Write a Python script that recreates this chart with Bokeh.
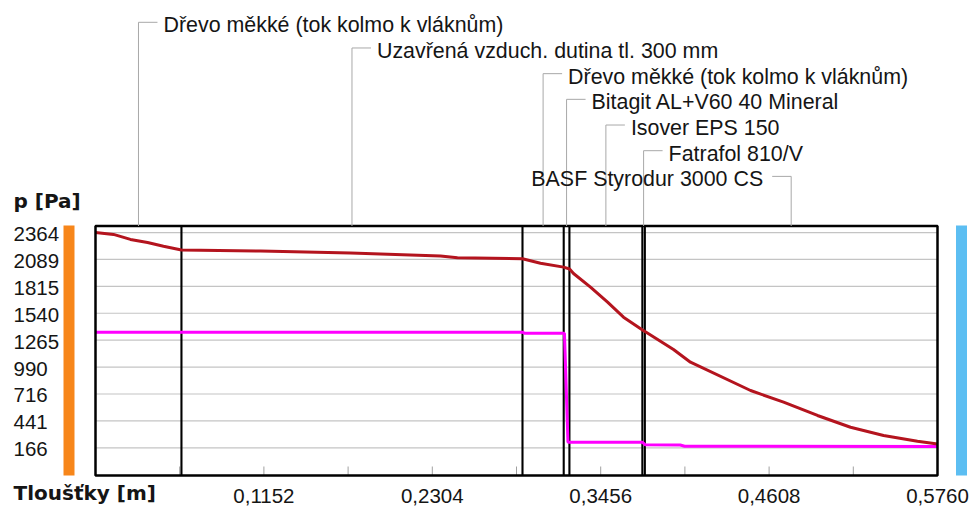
from bokeh.plotting import figure
from bokeh.models import Range1d
from bokeh.core.properties import value
from bokeh.embed import file_html
from bokeh.resources import INLINE

# ---------------- data ----------------
layer_names = [
    "Dřevo měkké (tok kolmo k vláknům)",
    "Uzavřená vzduch. dutina tl. 300 mm",
    "Dřevo měkké (tok kolmo k vláknům)",
    "Bitagit AL+V60 40 Mineral",
    "Isover EPS 150",
    "Fatrafol 810/V",
    "BASF Styrodur 3000 CS",
]
layer_bounds = [0.0, 0.0588, 0.2921, 0.3203, 0.3242, 0.3741, 0.3758, 0.5760]

# pressure p (dark red line)
p_x = [0.0000, 0.0123, 0.0239, 0.0356, 0.0465, 0.0588, 0.1129, 0.1744, 0.2360,
       0.2476, 0.2921, 0.3044, 0.3202, 0.3243, 0.3270, 0.3386, 0.3503, 0.3612,
       0.3742, 0.3759, 0.3954, 0.4070, 0.4481, 0.4707, 0.4939, 0.5165, 0.5391,
       0.5623, 0.5760]
p_pa = [2364, 2345, 2294, 2263, 2225, 2186, 2176, 2156, 2125,
        2107, 2096, 2051, 2011, 1992, 1946, 1806, 1653, 1500,
        1369, 1354, 1170, 1040, 751, 632, 496, 376, 292,
        233, 205]

# partial pressure (magenta line)
pv_x = [0.0000, 0.2921, 0.2935, 0.3208, 0.3232, 0.3742, 0.3759, 0.4000, 0.4030, 0.5760]
pv_pa = [1347, 1347, 1335, 1335, 223, 223, 198, 195, 182, 180]

y_ticks = [2364, 2089.25, 1814.5, 1539.75, 1265, 990.25, 715.5, 440.75, 166]
y_tick_labels = ["2364", "2089", "1815", "1540", "1265", "990", "716", "441", "166"]
x_ticks = [0.1152, 0.2304, 0.3456, 0.4608, 0.5760]
x_tick_labels = ["0,1152", "0,2304", "0,3456", "0,4608", "0,5760"]
x_minor = [0.0576, 0.1152, 0.1728, 0.2304, 0.2880, 0.3456, 0.4032, 0.4608, 0.5184]
y_title = "p [Pa]"
x_title = "Tloušťky [m]"

X_MIN, X_MAX = 0.0, 0.576
P_MIN, P_MAX = -117.0, 2431.0

# ---------------- geometry (page pixels) ----------------
W, H = 971, 506
MARGIN = 0
BOX_L, BOX_R, BOX_T, BOX_B = 95, 937, 225.5, 475
TDY = 8  # renderer puts alphabetic baselines this much lower; compensate

XS = (X_MAX - X_MIN) / (BOX_R - BOX_L)   # data per px (x)
YS = (P_MAX - P_MIN) / (BOX_B - BOX_T)   # Pa per px (y)


def px2x(px):
    return X_MIN + (px - BOX_L) * XS


def py2p(py):
    return P_MAX - (py - BOX_T) * YS


def ty(py):
    return py2p(py - TDY)


p = figure(width=W, height=H,
           x_range=Range1d(px2x(MARGIN), px2x(MARGIN + W)),
           y_range=Range1d(py2p(MARGIN + H), py2p(MARGIN)),
           x_axis_type=None, y_axis_type=None,
           toolbar_location=None, output_backend="svg",
           min_border=0, outline_line_color=None,
           background_fill_color="white", border_fill_color="white")

FONT = value("Liberation Sans")
BOLD = value("DejaVu Sans")
TXT = "#151515"

# side bars
p.quad(left=px2x(63), right=px2x(74), bottom=P_MIN, top=py2p(225),
       fill_color="#F7861A", line_color=None)
p.quad(left=px2x(955.5), right=px2x(966.5), bottom=P_MIN, top=py2p(225),
       fill_color="#5CBEF2", line_color=None)

# horizontal grid lines
p.segment(x0=[X_MIN] * len(y_ticks), x1=[X_MAX] * len(y_ticks),
          y0=y_ticks, y1=y_ticks, line_color="#C4C4C4", line_width=1.2)

# minor ticks on the bottom
p.segment(x0=x_minor, x1=x_minor, y0=[P_MIN] * len(x_minor),
          y1=[py2p(BOX_B - 9)] * len(x_minor), line_color="#A0A0A0", line_width=1)

# layer boundaries
inner = layer_bounds[1:-1]
p.segment(x0=inner, x1=inner, y0=[P_MIN] * len(inner), y1=[P_MAX] * len(inner),
          line_color="black", line_width=2.1)

# curves
p.line(pv_x, pv_pa, line_color="#FF00FF", line_width=3)
p.line(p_x, p_pa, line_color="#B4141E", line_width=3)

# plot box
p.quad(left=X_MIN, right=X_MAX, bottom=P_MIN, top=P_MAX,
       fill_color=None, line_color="black", line_width=2.5)

# layer labels with leader lines
n = len(layer_names)
mids = [(a + b) / 2 for a, b in zip(layer_bounds[:-1], layer_bounds[1:])]
base_py = [32.8 + 25.68 * i for i in range(n)]
lead_y = [py2p(b - 11) for b in base_py]
sides = [1] * (n - 1) + [-1]
p.segment(x0=mids, x1=mids, y0=lead_y, y1=[P_MAX] * n,
          line_color="#A8A8A8", line_width=1)
p.segment(x0=mids, x1=[m + s * 19 * XS for m, s in zip(mids, sides)],
          y0=lead_y, y1=lead_y, line_color="#A8A8A8", line_width=1)
left_rows = [i for i in range(n) if sides[i] > 0]
right_rows = [i for i in range(n) if sides[i] < 0]
p.text(x=[mids[i] + 25 * XS for i in left_rows], y=[ty(base_py[i]) for i in left_rows],
       text=[layer_names[i] for i in left_rows], text_font=FONT, text_font_size="21.4px",
       text_align="left", text_baseline="alphabetic", text_color=TXT)
p.text(x=[mids[i] - 28 * XS for i in right_rows], y=[ty(base_py[i]) for i in right_rows],
       text=[layer_names[i] for i in right_rows], text_font=FONT, text_font_size="21.4px",
       text_align="right", text_baseline="alphabetic", text_color=TXT)

# y tick labels (left aligned column)
p.text(x=[px2x(13)] * len(y_ticks), y=[t - (9.5 - TDY) * YS for t in y_ticks],
       text=y_tick_labels, text_font=FONT, text_font_size="20.5px", text_align="left",
       text_baseline="alphabetic", text_color=TXT)

# x tick labels
p.text(x=x_ticks, y=[ty(503)] * len(x_ticks), text=x_tick_labels,
       text_font=FONT, text_font_size="20.5px", text_align="center",
       text_baseline="alphabetic", text_color=TXT)

# axis titles
p.text(x=[px2x(13)], y=[ty(208)], text=[y_title], text_font=BOLD,
       text_font_size="20px", text_font_style="bold", text_align="left",
       text_baseline="alphabetic", text_color=TXT)
p.text(x=[px2x(13)], y=[ty(500)], text=[x_title], text_font=BOLD,
       text_font_size="20px", text_font_style="bold", text_align="left",
       text_baseline="alphabetic", text_color=TXT)

open("out.html", "w").write(file_html(p, INLINE))
